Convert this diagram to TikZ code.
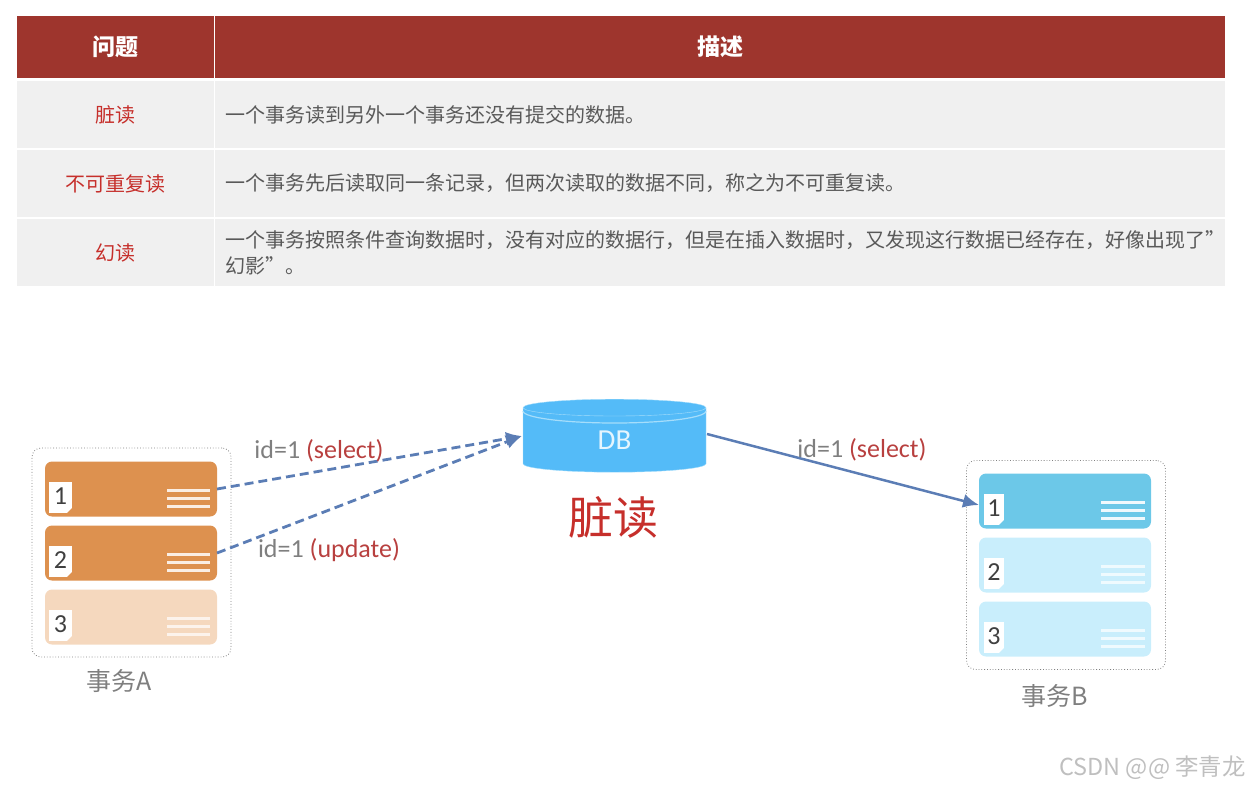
\documentclass[tikz,border=0pt]{standalone}
\usepackage{fontspec}
\setmainfont{Noto Sans CJK SC}
\newfontfamily\latinfont{Carlito}
\usetikzlibrary{arrows.meta,positioning,shapes.geometric,calc}
\definecolor{headRed}{HTML}{9E352D}
\definecolor{cellGray}{HTML}{F0F0F0}
\definecolor{textGray}{HTML}{595959}
\definecolor{wordRed}{HTML}{C62F2B}
\definecolor{idGray}{HTML}{7F7F7F}
\definecolor{idRed}{HTML}{B8403F}
\definecolor{arrowBlue}{HTML}{5B7DB5}
\definecolor{dbBlue}{HTML}{54BBF8}
\definecolor{dbEdge}{HTML}{A5DDFB}
\definecolor{orangeFull}{HTML}{DD914F}
\definecolor{orangePale}{HTML}{F5D8BE}
\definecolor{blueFull}{HTML}{6CC8E8}
\definecolor{bluePale}{HTML}{C9EEFC}

\begin{document}
\begin{tikzpicture}[x=1pt,y=-1pt,
      headcell/.style={fill=headRed,text=white,font=\fontsize{23}{26}\selectfont\bfseries,minimum height=62,inner sep=0pt,outer sep=0pt,align=center},
      wordcell/.style={fill=cellGray,text=wordRed,font=\fontsize{20}{26}\selectfont,minimum width=197,minimum height=67,inner sep=0pt,outer sep=0pt,align=center},
      desccell/.style={fill=cellGray,text=textGray,font=\fontsize{20}{26}\selectfont,text width=990,minimum height=67,inner xsep=10,inner ysep=0pt,outer sep=0pt,align=left},
      groupbox/.style={draw=gray,dotted,thick,rounded corners=9pt,minimum width=199,minimum height=209,inner sep=0pt},
      taskrow/.style={fill=#1,rounded corners=7pt,minimum width=172,minimum height=55,inner sep=0pt,outer sep=0pt},
      notetag/.style={fill=white,text=black!75,font=\latinfont\fontsize{26}{26}\selectfont,minimum width=#1,minimum height=31,inner sep=0pt,outer sep=0pt},
      rowline/.style={line width=3pt,#1},
      idlabel/.style={text=idGray,font=\latinfont\fontsize{26}{26}\selectfont,inner sep=0pt},
      tasklabel/.style={text=idGray,font=\fontsize{25}{26}\selectfont,inner sep=0pt},
      dbnode/.style={cylinder,shape border rotate=90,shape aspect=0.5,draw=dbEdge,fill=dbBlue,minimum width=183,minimum height=73,inner sep=0pt,outer sep=0pt,text=white!85!dbBlue,font=\latinfont\fontsize{29}{29}\selectfont},
      dasharrow/.style={-{Latex[length=16pt,width=14pt]},arrowBlue,line width=2.8pt,dash pattern=on 9pt off 5pt},
      solidarrow/.style={-{Latex[length=16pt,width=14pt]},arrowBlue,line width=2.5pt}]
    \useasboundingbox (0,0) rectangle (1249,788);
    % table
    \node[headcell,minimum width=197] (hq) at (115.5,47) {\raisebox{-1pt}{问题}};
    \node[headcell,minimum width=1010,right=1pt of hq] (hd) {\raisebox{-1pt}{描述}};
    \node[wordcell,below=3pt of hq] (w1) {脏读};
    \node[desccell,right=1pt of w1] (d1) {一个事务读到另外一个事务还没有提交的数据。};
    \node[wordcell,below=2pt of w1] (w2) {不可重复读};
    \node[desccell,right=1pt of w2] (d2) {一个事务先后读取同一条记录，但两次读取的数据不同，称之为不可重复读。};
    \node[wordcell,below=2pt of w2] (w3) {幻读};
    \node[desccell,right=1pt of w3] (d3) {一个事务按照条件查询数据时，没有对应的数据行，但是在插入数据时，又发现这行数据已经存在，好像出现了”\\幻影”。};
    % transaction A
    \node[groupbox] (boxa) at (131.5,552.5) {};
    \node[taskrow=orangeFull] (a1) at (131,489) {};
    \node[taskrow=orangeFull,below=9pt of a1] (a2) {};
    \node[taskrow=orangePale,below=9pt of a2] (a3) {};
    \foreach \n/\c/\l in {1/orangeFull/white!85!orangeFull,2/orangeFull/white!85!orangeFull,3/orangePale/white!70!orangePale} {
      \node[notetag=23] (ta\n) at ($(a\n.west)+(15.5,8.5)$) {\raisebox{2pt}{\n}};
      \fill[\c] (ta\n.south east) -- ++(-5,0) -- ++(5,-5) -- cycle;
      \foreach \d in {1,9,17}
        \draw[rowline=\l] ($(a\n.east)+(-50,\d)$) -- ++(43,0);
    }
    \node[tasklabel] (laba) at (119,681) {事务A};
    % transaction B
    \node[groupbox] (boxb) at (1066,565) {};
    \node[taskrow=blueFull] (b1) at (1065,501) {};
    \node[taskrow=bluePale,below=9pt of b1] (b2) {};
    \node[taskrow=bluePale,below=9pt of b2] (b3) {};
    \foreach \n/\c/\l in {1/blueFull/white!90!blueFull,2/bluePale/white!70!bluePale,3/bluePale/white!70!bluePale} {
      \node[notetag=20] (tb\n) at ($(b\n.west)+(15,8.5)$) {\raisebox{2pt}{\n}};
      \fill[\c] (tb\n.south east) -- ++(-5,0) -- ++(5,-5) -- cycle;
      \foreach \d in {1,9,17}
        \draw[rowline=\l] ($(b\n.east)+(-50,\d)$) -- ++(44,0);
    }
    \node[tasklabel] (labb) at (1055,696) {事务B};
    % database
    \node[dbnode] (db) at (614.5,440) {\raisebox{-2pt}{DB}};
    \draw[dbEdge,line width=1.2pt] (523,411) arc[start angle=180,end angle=0,x radius=91.5,y radius=12];
    \node[text=wordRed,font=\fontsize{45}{45}\selectfont,inner sep=0pt] (dirty) at (613,517) {脏读};
    \coordinate (dbin) at (522,436);
    \coordinate (dbout) at (707,434);
    \coordinate (bin) at (979,505);
    \draw[dasharrow] (a1.east) -- (dbin);
    \draw[dasharrow] (a2.east) -- (dbin);
    \draw[solidarrow] (dbout) -- (bin);
    \node[idlabel] (ids1) at (319,451) {id=1 \textcolor{idRed}{(select)}};
    \node[idlabel] (idu) at (329,550) {id=1 \textcolor{idRed}{(update)}};
    \node[idlabel] (ids2) at (862,450) {id=1 \textcolor{idRed}{(select)}};
    \node[text=gray!50,font=\fontsize{23.4}{24}\selectfont,inner sep=0pt] (mark) at (1152.5,768) {CSDN @@ 李青龙};
  \end{tikzpicture}
\end{document}
